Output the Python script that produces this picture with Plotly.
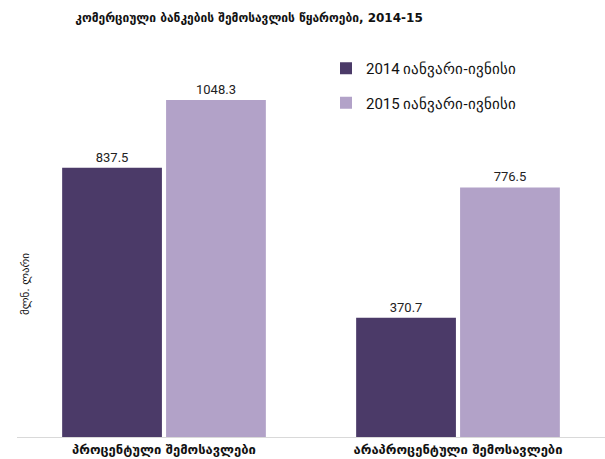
import plotly.graph_objects as go

categories = ["პროცენტული შემოსავლები", "არაპროცენტული შემოსავლები"]
series_names = ["2014 იანვარი-ივნისი", "2015 იანვარი-ივნისი"]
values_2014 = [837.5, 370.7]
values_2015 = [1048.3, 776.5]
colors = ["#4B3A68", "#B2A2C8"]

L, T, B = 17, 40, 22
W, H = 605, 459
PW, PH = W - L, H - T - B

fig = go.Figure()
for name, vals, col in zip(series_names, [values_2014, values_2015], colors):
    fig.add_trace(go.Bar(
        x=categories, y=vals, name=name, legendgroup=name,
        marker=dict(color=col, line=dict(width=0)),
        text=[f"{v:.1f}" for v in vals], textposition="outside", cliponaxis=False,
        textfont=dict(family="Roboto", size=13, color="#222222"),
    ))

fig.update_layout(
    width=W, height=H,
    margin=dict(l=L, r=0, t=T, b=B, autoexpand=False),
    paper_bgcolor="white", plot_bgcolor="white",
    barmode="group", bargap=0.293, bargroupgap=0.04,
    title=dict(text="<b>კომერციული ბანკების შემოსავლის წყაროები, 2014-15</b>",
               x=249/W, xanchor="center", y=1-18/H, yanchor="middle",
               font=dict(family="DejaVu Sans", size=12, color="#111111")),
    legend=dict(x=(326-L)/PW, xanchor="left", y=(H-B-52)/PH, yanchor="top",
                font=dict(family="Roboto", size=15, color="#111111"),
                tracegroupgap=12, itemwidth=30, bgcolor="rgba(0,0,0,0)"),
    xaxis=dict(showline=True, linecolor="#D9D9D9", linewidth=1, ticks="",
               tickangle=0, tickfont=dict(family="DejaVu Sans", size=13, color="#111111"),
               showgrid=False, automargin=False,
               tickprefix="<b>", ticksuffix="</b>"),
    yaxis=dict(range=[0, 1235], visible=False, showgrid=False, zeroline=False),
    annotations=[dict(text="მლნ. ლარი", textangle=-90, x=(25-L)/PW, y=(H-B-284)/PH,
                      xref="paper", yref="paper", xanchor="center", yanchor="middle",
                      showarrow=False, font=dict(family="DejaVu Sans", size=11, color="#111111"))],
)
fig.write_html("out.html", config={"displayModeBar": False},
               post_script="document.body.style.margin='0';document.body.style.overflow='hidden';")
